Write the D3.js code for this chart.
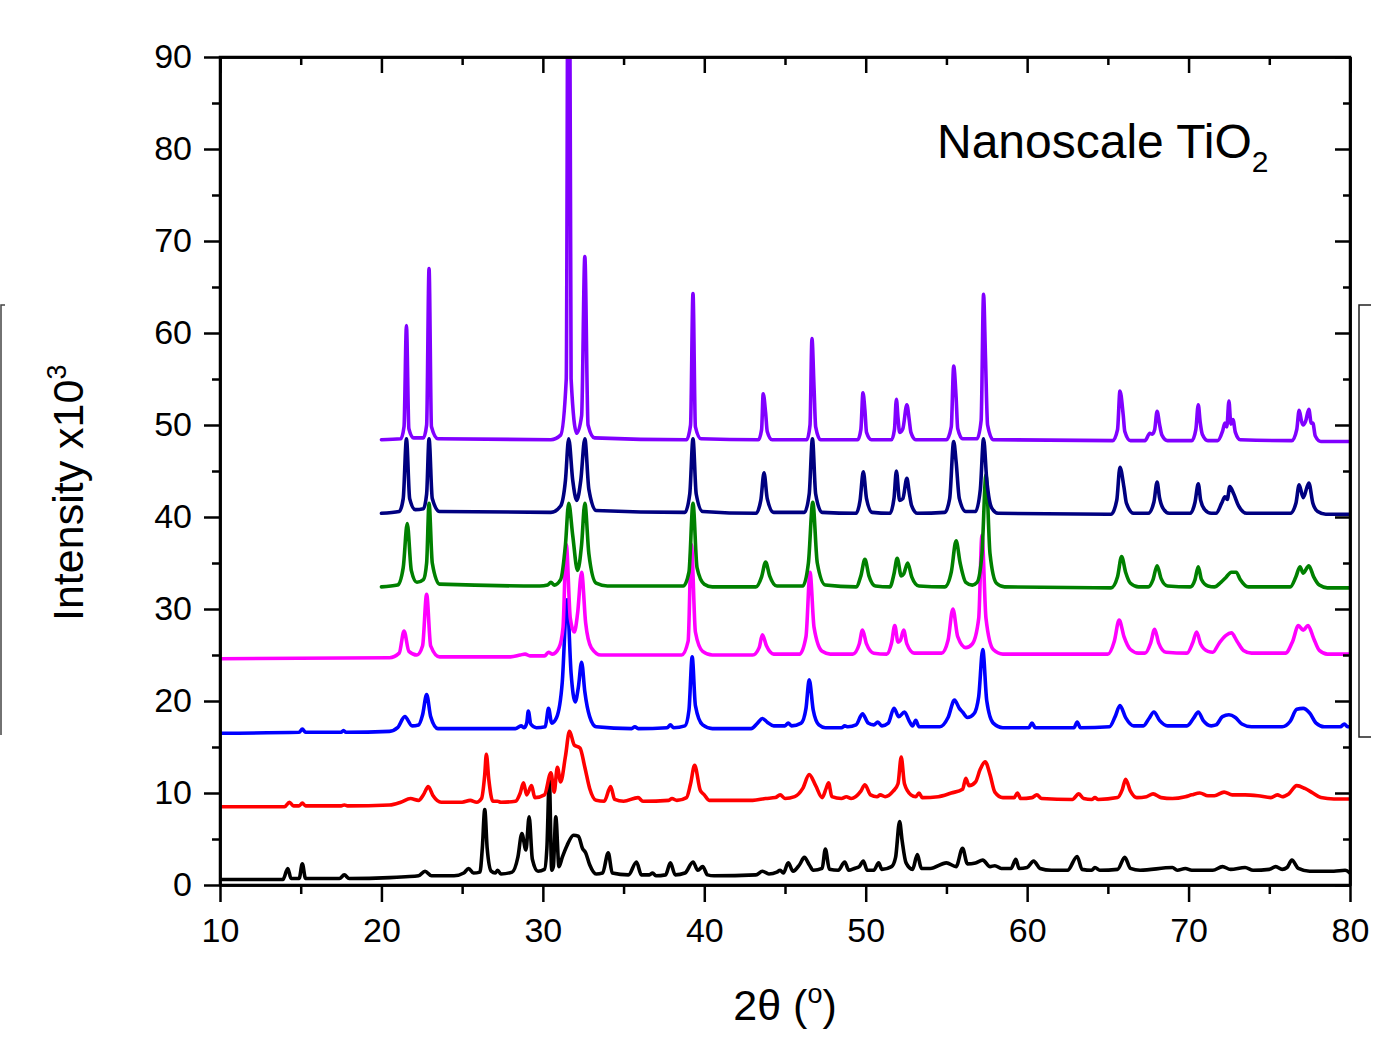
<!DOCTYPE html>
<html lang="en">
<head>
<meta charset="UTF-8">
<title>Nanoscale TiO2 XRD</title>
<script src="https://cdnjs.cloudflare.com/ajax/libs/d3/7.9.0/d3.min.js"></script>
<style>
    body { margin: 0; background: #fff; }
    svg { display: block; font-family: "Liberation Sans", Arial, sans-serif; }
    .axis path, .axis line { stroke: #000; stroke-width: 2.5px; }
    .axis text { font-size: 34px; fill: #000; }
    .trace { fill: none; stroke-width: 3.6px; stroke-linejoin: round; stroke-linecap: round; }
</style>
</head>
<body>
<div id="chart"></div>
<script>
// tick values
const xTicks = [10, 20, 30, 40, 50, 60, 70, 80];
const xMinor = [15, 25, 35, 45, 55, 65, 75];
const yTicks = [0, 10, 20, 30, 40, 50, 60, 70, 80, 90];
const yMinor = [5, 15, 25, 35, 45, 55, 65, 75, 85];

// patterns as [2theta, intensity x10^3] (offsets included)
const blackPattern = [[10,0.6],[13.9,0.6],[14.2,1.8],[14.4,0.7],[14.9,0.7],[15.1,2.3],[15.3,0.7],[17.4,0.7],[17.7,1.1],[18.0,0.7],[20.5,0.8],[21.5,0.9],[22.3,1.0],[22.7,1.5],[23.1,1.0],[24.5,1.0],[25.1,1.3],[25.4,1.8],[25.7,1.3],[26.1,1.4],[26.25,4],[26.4,8.2],[26.55,4],[26.8,1.5],[27.05,1.3],[27.2,1.6],[27.4,1.2],[28.1,1.4],[28.45,3],[28.7,5.6],[28.95,3.8],[29.15,7.4],[29.35,2.8],[29.7,1.5],[30.1,1.7],[30.25,4],[30.4,11.4],[30.55,1.6],[30.65,2],[30.8,7.4],[31.0,2.0],[31.2,3],[31.5,4.3],[31.9,5.4],[32.2,5.3],[32.45,4],[32.65,3.5],[32.9,2.2],[33.3,1.2],[33.7,1.3],[34.05,3.5],[34.3,1.3],[35.3,1.1],[35.8,2.5],[36.1,1.1],[36.6,1.1],[36.8,1.3],[37.0,1.0],[37.6,1.1],[37.9,2.4],[38.2,1.1],[38.8,1.3],[39.3,2.5],[39.6,1.6],[39.9,2.0],[40.2,1.1],[40.6,1.0],[43.2,1.1],[43.6,1.5],[44.0,1.2],[44.5,1.4],[44.7,1.6],[44.9,1.3],[45.2,2.4],[45.5,1.5],[45.9,2.2],[46.2,3.0],[46.5,2.2],[46.75,1.6],[47.3,1.8],[47.5,3.9],[47.75,1.7],[48.3,1.6],[48.7,2.5],[48.95,1.6],[49.3,1.8],[49.6,2],[49.85,2.6],[50.1,1.6],[50.5,1.6],[50.8,2.4],[51.0,1.7],[51.6,2.0],[51.85,3],[52.1,6.9],[52.25,4.9],[52.5,2.4],[52.9,1.7],[53.2,3.3],[53.45,1.8],[54.0,1.8],[55.0,2.4],[55.6,2.0],[56.0,4.0],[56.3,2.3],[56.8,2.4],[57.25,2.7],[57.7,2.0],[58.0,2.1],[58.4,1.8],[59.0,1.8],[59.3,2.8],[59.5,1.8],[60.0,1.9],[60.4,2.6],[60.8,1.8],[61.5,1.6],[62.5,1.6],[63.1,3.1],[63.4,1.7],[64.0,1.6],[64.2,1.9],[64.5,1.6],[65.6,1.7],[66.05,3.0],[66.4,1.8],[67.0,1.6],[69.0,1.9],[69.3,1.6],[69.8,1.8],[70.2,1.6],[71.5,1.6],[72.1,2.0],[72.6,1.7],[73.5,1.9],[74.0,1.6],[75.0,1.7],[75.4,2.0],[75.8,1.7],[76.1,1.9],[76.4,2.7],[76.8,1.8],[77.5,1.5],[79.0,1.5],[79.7,1.6],[80,1.3]];

const redPattern = [[10,8.5],[14.0,8.5],[14.3,9.0],[14.55,8.6],[14.9,8.6],[15.1,8.9],[15.3,8.6],[17.5,8.6],[17.7,8.7],[17.9,8.6],[20.5,8.7],[21.2,9.0],[21.8,9.4],[22.3,9.2],[22.6,9.8],[22.9,10.7],[23.2,9.7],[23.7,9.0],[25.0,9.0],[25.5,9.2],[25.9,9.0],[26.2,9.4],[26.4,12],[26.5,14.2],[26.65,11.5],[26.9,9.1],[27.2,9.1],[27.4,9.0],[28.3,9.1],[28.6,10],[28.8,11.1],[29.0,9.8],[29.3,10.8],[29.5,9.5],[30.1,9.8],[30.5,12.2],[30.7,10.1],[30.9,12.8],[31.1,11.2],[31.4,14],[31.65,16.7],[31.95,15.2],[32.3,14.9],[32.6,12.8],[32.9,10.5],[33.3,9.2],[33.8,9.1],[34.2,10.7],[34.45,9.3],[35.0,9.1],[35.9,9.5],[36.2,9.1],[37.8,9.2],[38.0,9.4],[38.3,9.2],[38.9,9.5],[39.15,11],[39.4,13.0],[39.75,10.3],[40.0,9.8],[40.3,9.2],[43.0,9.2],[43.8,9.4],[44.4,9.5],[44.7,9.8],[45.0,9.4],[45.6,9.6],[46.1,10.5],[46.5,12.0],[46.9,10.8],[47.3,9.5],[47.55,10.5],[47.7,11.1],[47.9,9.6],[48.5,9.4],[48.8,9.6],[49.1,9.4],[49.7,10.2],[49.95,10.9],[50.3,9.8],[50.7,9.6],[50.9,9.8],[51.2,9.6],[51.7,10.2],[52.0,11],[52.2,13.9],[52.4,11],[52.8,9.8],[53.1,9.6],[53.3,10.0],[53.5,9.5],[54.5,9.6],[55.3,10.0],[56.0,10.4],[56.2,11.6],[56.4,10.8],[56.8,11.2],[57.1,12.6],[57.4,13.4],[57.7,12],[58.0,10.1],[58.5,9.5],[59.2,9.5],[59.4,10.0],[59.6,9.4],[60.3,9.5],[60.6,9.8],[60.9,9.4],[62.8,9.3],[63.2,9.9],[63.5,9.4],[64.0,9.3],[64.2,9.5],[64.4,9.3],[65.6,9.5],[65.9,10.4],[66.1,11.5],[66.4,10.2],[66.8,9.5],[67.4,9.6],[67.8,9.9],[68.3,9.5],[69.0,9.4],[69.8,9.6],[70.2,9.8],[70.7,10.0],[71.2,9.7],[71.6,9.7],[72.2,10.1],[72.7,9.8],[73.5,9.8],[74.3,9.7],[75.1,9.5],[75.5,9.8],[75.8,9.6],[76.2,9.9],[76.7,10.8],[77.2,10.5],[77.7,10.0],[78.2,9.5],[79,9.35],[80,9.35]];

const bluePattern = [[10,16.5],[14.9,16.6],[15.1,16.95],[15.3,16.6],[17.5,16.6],[17.65,16.8],[17.8,16.6],[20.5,16.7],[21.0,17.1],[21.45,18.3],[21.9,17.3],[22.3,17.4],[22.55,18.5],[22.8,20.7],[23.05,18.3],[23.5,17.0],[28.3,17.0],[28.65,17.3],[28.85,17.1],[29.0,17.6],[29.1,18.9],[29.25,17.5],[29.6,17.1],[30.15,17.2],[30.35,19.2],[30.55,17.6],[30.85,18.2],[31.2,22],[31.5,31],[31.75,23],[32.0,19.9],[32.2,21.5],[32.4,24.2],[32.6,21],[32.9,18.3],[33.3,17.2],[35.5,17.0],[35.7,17.2],[35.9,17.0],[37.7,17.1],[37.9,17.4],[38.1,17.1],[38.8,17.3],[39.05,19],[39.25,24.8],[39.45,19.5],[39.9,17.4],[40.5,17.0],[42.9,17.0],[43.3,17.6],[43.6,18.1],[43.9,17.7],[44.3,17.3],[45.0,17.3],[45.2,17.6],[45.4,17.3],[46.0,17.6],[46.3,19.2],[46.5,22.3],[46.75,19],[47.1,17.4],[47.5,17.1],[48.5,17.1],[48.7,17.3],[48.9,17.2],[49.4,17.4],[49.8,18.6],[50.15,17.6],[50.5,17.4],[50.75,17.7],[51.0,17.3],[51.4,17.6],[51.75,19.2],[52.05,18.3],[52.4,18.8],[52.7,17.8],[52.9,17.3],[53.1,17.9],[53.3,17.2],[54.6,17.2],[55.1,18.2],[55.5,20.1],[55.8,19.2],[56.0,18.8],[56.3,18.2],[56.7,18.6],[57.0,20.5],[57.25,25.6],[57.5,20],[57.9,17.6],[58.5,17.1],[60.1,17.1],[60.3,17.6],[60.5,17.1],[62.9,17.1],[63.1,17.7],[63.3,17.1],[65.1,17.2],[65.45,18.3],[65.75,19.5],[66.1,18.2],[66.6,17.3],[67.2,17.3],[67.55,18.1],[67.85,18.8],[68.2,17.9],[68.7,17.3],[69.9,17.3],[70.3,18.1],[70.6,18.8],[70.9,17.9],[71.4,17.3],[71.7,17.4],[72.1,18.3],[72.5,18.5],[72.9,18.2],[73.3,17.5],[73.9,17.2],[75.8,17.2],[76.3,17.8],[76.7,19.1],[77.1,19.2],[77.5,18.7],[77.9,17.6],[78.4,17.2],[79.4,17.2],[79.65,17.5],[79.85,17.2],[80,17.2]];

const magentaPattern = [[10,24.6],[20.5,24.7],[21.1,25.2],[21.4,27.6],[21.7,25.4],[22.2,25],[22.55,26],[22.8,31.6],[23.05,26],[23.6,24.8],[28.0,24.8],[28.6,25],[28.9,25.1],[29.2,24.9],[30.1,24.9],[30.35,25.3],[30.6,25.1],[31.0,25.8],[31.25,28],[31.45,37],[31.7,29],[31.95,27.5],[32.15,29.5],[32.4,34],[32.65,28.5],[33.0,25.8],[33.6,25],[38.6,25],[39.0,26.5],[39.2,37],[39.45,27.5],[39.9,25.4],[40.5,25],[43.0,25],[43.4,25.8],[43.6,27.2],[43.85,26],[44.3,25.1],[45.9,25.1],[46.3,27],[46.55,34],[46.8,28],[47.3,25.4],[47.8,25.1],[49.2,25.1],[49.6,26.2],[49.8,27.7],[50.05,26.2],[50.5,25.2],[51.3,25.1],[51.6,26.3],[51.8,28.2],[52.0,26.4],[52.15,26.6],[52.35,27.7],[52.55,26.2],[53.0,25.2],[54.7,25.2],[55.1,26.6],[55.4,30.0],[55.7,27],[56.2,25.8],[56.6,26.2],[57.0,29],[57.2,38],[57.45,29],[57.9,25.6],[58.5,25.1],[65.0,25.1],[65.4,26.5],[65.7,28.8],[66.0,27],[66.4,25.6],[66.9,25.2],[67.3,25.2],[67.65,26.3],[67.9,27.8],[68.15,26.3],[68.6,25.3],[69.9,25.2],[70.25,26.3],[70.5,27.5],[70.75,26.2],[71.2,25.4],[71.5,25.3],[71.9,26.3],[72.3,27.1],[72.65,27.4],[73.0,26.5],[73.4,25.5],[73.9,25.2],[76.0,25.2],[76.45,26.5],[76.8,28.2],[77.1,27.7],[77.4,28.2],[77.75,26.8],[78.1,25.5],[78.6,25.1],[80,25.1]];

const greenPattern = [[20,32.4],[21.0,32.6],[21.35,34.5],[21.6,39.3],[21.85,34.2],[22.2,32.9],[22.6,33.2],[22.8,35],[22.95,41.5],[23.15,35],[23.6,32.7],[29.8,32.5],[30.3,32.6],[30.5,32.9],[30.7,32.6],[31.1,33.2],[31.4,37],[31.6,41.5],[31.85,38],[32.15,34.2],[32.4,37],[32.6,41.5],[32.85,36],[33.3,32.8],[34,32.5],[38.7,32.5],[39.05,34],[39.3,41.5],[39.55,34.5],[40.0,32.7],[40.5,32.4],[43.2,32.4],[43.55,33.5],[43.8,35.1],[44.05,33.6],[44.5,32.5],[46.1,32.5],[46.45,35],[46.72,41.6],[47.0,35],[47.5,32.6],[49.4,32.4],[49.7,33.6],[49.95,35.4],[50.2,33.6],[50.6,32.5],[51.5,32.4],[51.75,33.8],[51.95,35.5],[52.2,33.6],[52.35,33.8],[52.6,35.0],[52.85,33.5],[53.3,32.5],[54.9,32.4],[55.3,34],[55.6,37.4],[55.85,35],[56.2,32.9],[56.6,32.6],[56.9,32.9],[57.2,36],[57.45,44.6],[57.7,36],[58.1,32.8],[58.6,32.4],[65.2,32.3],[65.6,33.5],[65.85,35.7],[66.1,34],[66.4,32.8],[66.9,32.4],[67.5,32.4],[67.8,33.2],[68.05,34.7],[68.3,33.3],[68.7,32.5],[70.1,32.4],[70.4,33.2],[70.6,34.6],[70.8,33.2],[71.2,32.5],[71.6,32.4],[72.0,32.9],[72.3,33.4],[72.65,34.0],[72.95,34.0],[73.2,33.2],[73.7,32.4],[76.3,32.4],[76.65,33.5],[76.9,34.6],[77.1,33.9],[77.45,34.7],[77.75,33.5],[78.1,32.6],[78.6,32.3],[80,32.3]];

const navyPattern = [[20,40.4],[21.1,40.6],[21.35,42],[21.55,48.5],[21.75,42],[22.1,40.8],[22.6,40.9],[22.8,42.5],[22.95,48.5],[23.15,42],[23.6,40.6],[30.5,40.5],[31.1,41.2],[31.4,44],[31.6,48.5],[31.85,44],[32.1,41.8],[32.35,44],[32.6,48.5],[32.85,43],[33.3,40.7],[38.8,40.5],[39.1,42.5],[39.3,48.5],[39.5,42.5],[39.9,40.6],[43.2,40.4],[43.5,41.8],[43.7,44.8],[43.9,42],[44.3,40.5],[46.2,40.5],[46.5,42.5],[46.7,48.5],[46.9,42.5],[47.3,40.5],[49.4,40.4],[49.65,41.8],[49.85,44.9],[50.05,42],[50.4,40.5],[51.5,40.4],[51.75,42],[51.9,45.0],[52.1,41.8],[52.3,42],[52.55,44.2],[52.7,42.6],[52.85,41.2],[53.2,40.4],[54.9,40.5],[55.2,42],[55.45,48.2],[55.6,46],[55.8,42],[56.2,40.6],[56.8,40.6],[57.1,43],[57.3,48.5],[57.5,44],[57.8,41],[58.2,40.4],[65.2,40.3],[65.55,41.8],[65.75,45.4],[66.0,43.2],[66.15,41.5],[66.6,40.4],[67.5,40.4],[67.85,41.6],[68.05,43.8],[68.2,42.1],[68.4,41],[68.8,40.4],[70.1,40.4],[70.4,41.6],[70.6,43.6],[70.75,41.8],[71.0,40.8],[71.4,40.4],[71.7,40.4],[72.05,41.5],[72.25,42.2],[72.4,41.9],[72.55,43.3],[72.8,42.5],[73.1,41.2],[73.6,40.4],[76.3,40.4],[76.65,41.5],[76.85,43.5],[77.1,42.1],[77.45,43.7],[77.7,41.5],[78.0,40.6],[78.5,40.3],[80,40.3]];

const violetPattern = [[20,48.4],[21.2,48.5],[21.4,49.8],[21.55,60.8],[21.7,49.6],[22.0,48.6],[22.6,48.6],[22.8,50],[22.95,67.0],[23.1,49.8],[23.5,48.5],[30.5,48.4],[31.1,48.9],[31.45,55],[31.6,130],[31.75,55],[32.1,49.1],[32.4,51],[32.6,68.3],[32.8,50],[33.2,48.6],[38.9,48.4],[39.15,50],[39.3,64.3],[39.45,49.8],[39.8,48.5],[43.35,48.4],[43.55,49.5],[43.65,53.4],[43.8,51.3],[43.9,49.3],[44.2,48.4],[46.35,48.4],[46.55,50],[46.67,59.4],[46.8,54],[46.9,49.8],[47.2,48.4],[49.5,48.4],[49.7,49.5],[49.83,53.5],[49.95,51.6],[50.05,49.2],[50.35,48.4],[51.6,48.4],[51.78,49.5],[51.9,52.8],[52.0,50.8],[52.1,49.2],[52.3,49.6],[52.55,52.2],[52.7,50.5],[52.8,49.2],[53.1,48.4],[55.0,48.4],[55.3,49.8],[55.45,56.4],[55.6,53],[55.7,49.6],[56.0,48.5],[56.9,48.5],[57.15,50.5],[57.3,64.2],[57.42,57.3],[57.55,50],[57.9,48.4],[65.3,48.3],[65.6,49.5],[65.75,53.7],[65.95,51.1],[66.05,49.3],[66.4,48.3],[67.3,48.3],[67.6,49.1],[67.75,49.0],[67.9,49.5],[68.05,51.5],[68.2,50.1],[68.35,48.9],[68.7,48.3],[70.2,48.3],[70.45,49.5],[70.6,52.2],[70.72,50.3],[70.85,49.0],[71.2,48.3],[71.8,48.3],[72.1,49.3],[72.25,50.2],[72.37,49.8],[72.5,52.6],[72.62,50.1],[72.75,50.6],[72.9,49.2],[73.2,48.4],[76.4,48.3],[76.7,49.5],[76.85,51.6],[77.0,50.4],[77.1,50.0],[77.25,50.4],[77.45,51.7],[77.6,50.2],[77.7,50.2],[77.85,48.8],[78.2,48.2],[80,48.2]];

const patterns = [blackPattern, redPattern, bluePattern, magentaPattern, greenPattern, navyPattern, violetPattern];
const seriesColors = ["#000000", "#ff0000", "#0000ff", "#ff00ff", "#008000", "#000080", "#8000ff"];

const width = 1379, height = 1037;
const margin = { top: 57, right: 29, bottom: 152, left: 220 };

const svg = d3.select("#chart").append("svg")
    .attr("width", width)
    .attr("height", height);

const x = d3.scaleLinear().domain([10, 80]).range([margin.left, width - margin.right]);
const y = d3.scaleLinear().domain([0, 90]).range([height - margin.bottom, margin.top]);

svg.append("clipPath").attr("id", "plot-clip")
    .append("rect")
    .attr("x", x(10)).attr("y", y(90))
    .attr("width", x(80) - x(10)).attr("height", y(0) - y(90));

const line = d3.line()
    .x(d => x(d[0]))
    .y(d => y(d[1]))
    .curve(d3.curveMonotoneX);

svg.append("g")
    .attr("clip-path", "url(#plot-clip)")
    .selectAll("path")
    .data(patterns)
    .join("path")
    .attr("class", "trace")
    .attr("stroke", (d, i) => seriesColors[i])
    .attr("d", line);

// axes: outer ticks on left/bottom, inner ticks on top/right
svg.append("g").attr("class", "axis")
    .attr("transform", `translate(0,${y(0)})`)
    .call(d3.axisBottom(x).tickValues(xTicks).tickSize(17).tickPadding(16).tickSizeOuter(0));
svg.append("g").attr("class", "axis")
    .attr("transform", `translate(0,${y(0)})`)
    .call(d3.axisBottom(x).tickValues(xMinor).tickSize(9).tickFormat("").tickSizeOuter(0));
svg.append("g").attr("class", "axis")
    .attr("transform", `translate(${x(10)},0)`)
    .call(d3.axisLeft(y).tickValues(yTicks).tickSize(16).tickPadding(12).tickSizeOuter(0));
svg.append("g").attr("class", "axis")
    .attr("transform", `translate(${x(10)},0)`)
    .call(d3.axisLeft(y).tickValues(yMinor).tickSize(8).tickFormat("").tickSizeOuter(0));
svg.append("g").attr("class", "axis")
    .attr("transform", `translate(0,${y(90)})`)
    .call(d3.axisTop(x).tickValues(xTicks).tickSize(-16).tickFormat("").tickSizeOuter(0));
svg.append("g").attr("class", "axis")
    .attr("transform", `translate(0,${y(90)})`)
    .call(d3.axisTop(x).tickValues(xMinor).tickSize(-8).tickFormat("").tickSizeOuter(0));
svg.append("g").attr("class", "axis")
    .attr("transform", `translate(${x(80)},0)`)
    .call(d3.axisRight(y).tickValues(yTicks).tickSize(-15).tickFormat("").tickSizeOuter(0));
svg.append("g").attr("class", "axis")
    .attr("transform", `translate(${x(80)},0)`)
    .call(d3.axisRight(y).tickValues(yMinor).tickSize(-7).tickFormat("").tickSizeOuter(0));

svg.append("rect")
    .attr("x", x(10)).attr("y", y(90))
    .attr("width", x(80) - x(10)).attr("height", y(0) - y(90))
    .attr("fill", "none").attr("stroke", "#000").attr("stroke-width", 2.5);

// axis titles
const yTitle = svg.append("text")
    .attr("transform", `translate(83,621) rotate(-90)`)
    .attr("font-size", 43)
    .text("Intensity x10");
yTitle.append("tspan").attr("font-size", 27).attr("dy", -17).text("3");

const xTitle = svg.append("text")
    .attr("x", 785).attr("y", 1020)
    .attr("text-anchor", "middle")
    .attr("font-size", 43)
    .text("2\u03b8 (");
xTitle.append("tspan").attr("font-size", 27).attr("dy", -17).text("o");
xTitle.append("tspan").attr("dy", 17).text(")");

const title = svg.append("text")
    .attr("x", 937).attr("y", 158)
    .attr("font-size", 48)
    .text("Nanoscale TiO");
title.append("tspan").attr("font-size", 30).attr("dy", 14).text("2");

// edges of the side boxes cut off by the figure frame
svg.append("path")
    .attr("d", "M5,305H1V735")
    .attr("fill", "none").attr("stroke", "#444").attr("stroke-width", 1.5);
svg.append("path")
    .attr("d", "M1371,305H1359V737H1371")
    .attr("fill", "none").attr("stroke", "#222").attr("stroke-width", 1.5);
</script>
</body>
</html>
